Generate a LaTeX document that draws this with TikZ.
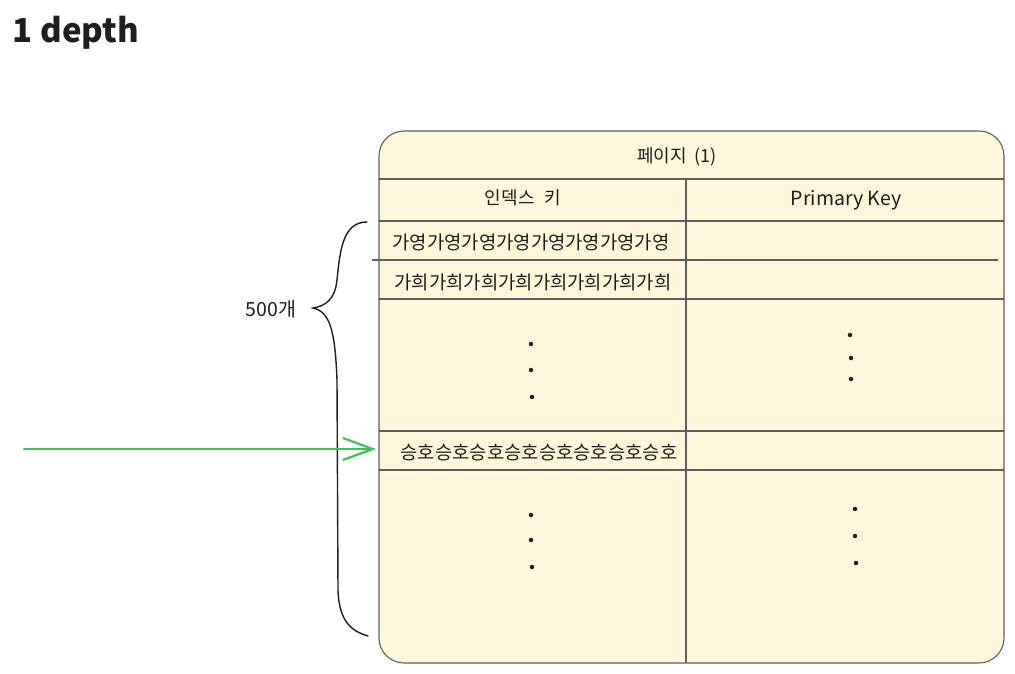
\documentclass[tikz,border=0pt]{standalone}
\usepackage{fontspec}
\setmainfont{Noto Sans CJK KR}
\usetikzlibrary{arrows.meta}
\definecolor{tablefill}{RGB}{253,246,218}
\definecolor{linegray}{RGB}{95,95,95}
\definecolor{arrowgreen}{RGB}{64,192,87}
\definecolor{inkblack}{RGB}{30,30,30}
\begin{document}
\begin{tikzpicture}[x=1pt,y=-1pt,
  gridline/.style={draw=linegray,line width=1.1pt},
  celltext/.style={text=inkblack,inner sep=0pt,font=\fontsize{18}{22}\selectfont},
  rowtext/.style={text=inkblack,inner sep=0pt,font=\fontsize{18.8}{22}\selectfont},
  dotmark/.style={circle,fill=inkblack,inner sep=0pt,minimum size=4.5pt},
  bracepath/.style={draw=inkblack,line width=1.4pt,line cap=round},
  greenarrow/.style={draw=arrowgreen,line width=2.2pt,line cap=round,
     -{Straight Barb[length=30pt,width=22pt,line width=2.2pt]}}
]
\useasboundingbox (0,0) rectangle (1015,674);

% title
\node[text=inkblack,inner sep=0pt,font=\fontsize{33}{38}\selectfont\bfseries] (title) at (76,33) {1 depth};

% table body
\path[gridline,fill=tablefill,rounded corners=25pt] (379,131) rectangle (1004,663);
\draw[gridline] (379,179) -- (1004,179);
\draw[gridline] (686,179) -- (686,663);
\draw[gridline] (379,221) -- (1004,221);
\draw[gridline] (372,260) -- (998,260);
\draw[gridline] (379,299) -- (1004,299);
\draw[gridline] (379,431) -- (1004,431);
\draw[gridline] (379,470) -- (1004,470);

% texts
\node[celltext] (page) at (677,157) {페이지\hspace{0.45em}(1)};
\node[celltext] (idxkey) at (523,198) {인덱스\hspace{0.55em}키};
\node[celltext,font=\fontsize{19.5}{23}\selectfont] (pk) at (846,200) {Primary Key};
\node[rowtext] (row1) at (531,242) {가영가영가영가영가영가영가영가영};
\node[rowtext] (row2) at (533,282) {가희가희가희가희가희가희가희가희};
\node[rowtext] (row3) at (539,453) {승호승호승호승호승호승호승호승호};

% dots
\node[dotmark] (d1) at (531,344) {};
\node[dotmark] (d2) at (531,370) {};
\node[dotmark] (d3) at (532,397) {};
\node[dotmark] (d4) at (850,335) {};
\node[dotmark] (d5) at (851,358) {};
\node[dotmark] (d6) at (851,379) {};
\node[dotmark] (d7) at (531,515) {};
\node[dotmark] (d8) at (531,540) {};
\node[dotmark] (d9) at (532,567) {};
\node[dotmark] (d10) at (855,509) {};
\node[dotmark] (d11) at (855,536) {};
\node[dotmark] (d12) at (856,563) {};

% brace
\coordinate (bracetop) at (367,222);
\coordinate (bracetip) at (313,308);
\coordinate (bracebot) at (368,636);
\path[bracepath] (bracetop) .. controls (343,222) and (340,250) .. (337,280)
  .. controls (335,300) and (325,306) .. (bracetip)
  .. controls (330,312) and (335,330) .. (337,380)
  -- (338,590) .. controls (339,625) and (355,632) .. (bracebot);
\node[celltext,font=\fontsize{19.5}{23}\selectfont] (count) at (271,309) {500개};

% arrow
\coordinate (arrowstart) at (24,449);
\coordinate (arrowend) at (376,449);
\path[greenarrow] (arrowstart) -- (arrowend);
\end{tikzpicture}
\end{document}
